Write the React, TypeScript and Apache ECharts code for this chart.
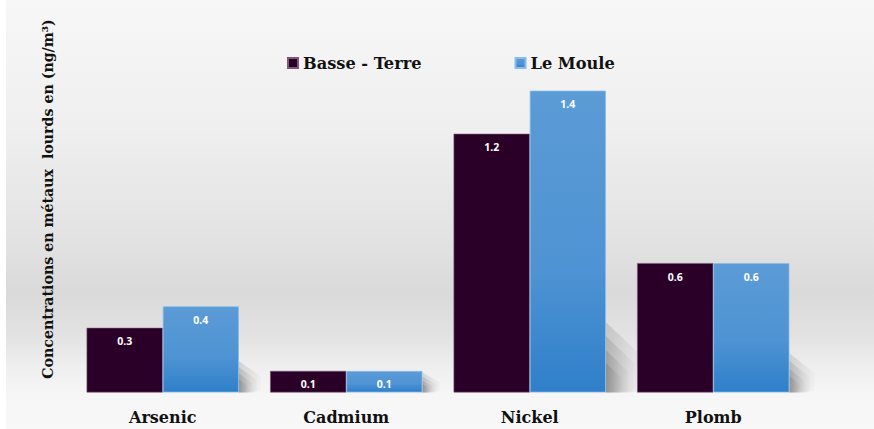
import React, { useEffect, useRef } from "react";
import * as echarts from "echarts";

const categories = ["Arsenic", "Cadmium", "Nickel", "Plomb"];
const seriesNames = ["Basse - Terre", "Le Moule"];
const basseTerre = [0.3, 0.1, 1.2, 0.6];
const leMoule = [0.4, 0.1, 1.4, 0.6];
const yTitle = "Concentrations en métaux  lourds en (ng/m³)";

export default function App() {
  const ref = useRef<HTMLDivElement>(null);
  useEffect(() => {
    const chart = echarts.init(ref.current!, null, { renderer: "svg" });
    const serif = "DejaVu Serif";
    const shadowData = categories.map((_, i) => [i, Math.max(basseTerre[i], leMoule[i])]);
    chart.setOption({
      animation: false,
      grid: { left: 65, right: 69, top: 47.5, bottom: 36.5 },
      legend: {
        data: seriesNames,
        left: 276,
        top: 50,
        itemWidth: 10,
        itemHeight: 10,
        itemGap: 93,
        icon: "rect",
        textStyle: { fontFamily: serif, fontWeight: "bold", fontSize: 16.2, color: "#111" },
      },
      graphic: [
        {
          type: "text",
          x: 42,
          y: 199,
          rotation: Math.PI / 2,
          style: {
            text: yTitle,
            fontFamily: serif,
            fontWeight: "bold",
            fontSize: 14.2,
            fill: "#111",
            textAlign: "center",
            textVerticalAlign: "middle",
          },
        },
      ],
      xAxis: {
        type: "category",
        data: categories,
        axisLine: { show: false },
        axisTick: { show: false },
        axisLabel: {
          margin: 17,
          fontFamily: serif,
          fontWeight: "bold",
          fontSize: 16,
          color: "#111",
        },
      },
      yAxis: { type: "value", min: 0, max: 1.6, show: false, splitLine: { show: false } },
      series: [
        {
          type: "custom",
          silent: true,
          z: 1,
          data: shadowData,
          encode: { x: 0, y: 1 },
          renderItem: (params: any, api: any) => {
            const idx = api.value(0);
            const v = api.value(1);
            const p0 = api.coord([idx, 0]);
            const p1 = api.coord([idx, v]);
            const bw = api.size([1, 0])[0];
            const xr = p0[0] + bw * 0.415;
            const h = p0[1] - p1[1];
            const H = 16 + 0.18 * h;
            const W = 16 + 0.07 * h;
            const layers = [1.0, 0.8, 0.6, 0.42];
            return {
              type: "group",
              children: layers.map((s) => ({
                type: "polygon",
                shape: {
                  points: [
                    [xr, p0[1]],
                    [xr, p0[1] - H * s],
                    [xr + W * s, p0[1] - H * s * 0.5],
                    [xr + W * s, p0[1] - 3],
                    [xr + W * s * 0.7, p0[1]],
                  ],
                },
                style: {
                  fill: new echarts.graphic.LinearGradient(0, 0, 1, 0, [
                    { offset: 0, color: "rgba(0,0,0,0.12)" },
                    { offset: 1, color: "rgba(0,0,0,0.015)" },
                  ]),
                },
              })),
            };
          },
        },
        {
          name: seriesNames[0],
          type: "bar",
          z: 2,
          data: basseTerre,
          barGap: "0%",
          barCategoryGap: "17%",
          itemStyle: { color: "#2a0028", borderColor: "#7a5a78", borderWidth: 0.6 },
          label: {
            show: true,
            position: "insideTop",
            distance: 8,
            color: "#fff",
            fontFamily: "Noto Sans",
            fontWeight: "bold",
            fontSize: 10.5,
          },
        },
        {
          name: seriesNames[1],
          type: "bar",
          z: 2,
          data: leMoule,
          barGap: "0%",
          barCategoryGap: "17%",
          itemStyle: {
            color: new echarts.graphic.LinearGradient(0, 0, 0, 1, [
              { offset: 0, color: "#5b9bd6" },
              { offset: 0.6, color: "#4e93d3" },
              { offset: 1, color: "#2f7fca" },
            ]),
            borderColor: "#8cbbe6",
            borderWidth: 0.8,
          },
          label: {
            show: true,
            position: "insideTop",
            distance: 8,
            color: "#fff",
            fontFamily: "Noto Sans",
            fontWeight: "bold",
            fontSize: 10.5,
          },
        },
      ],
    });
    return () => chart.dispose();
  }, []);
  return (
    <div style={{ position: "absolute", left: 0, top: 0, width: 874, height: 429, background: "#fff" }}>
      <div
        ref={ref}
        style={{
          position: "absolute",
          left: 6,
          top: 0,
          width: 868,
          height: 429,
          background:
            "linear-gradient(to bottom, #f7f7f7 0%, #efefef 30%, #e3e3e3 55%, #dadada 68%, #e2e2e2 78%, #efefef 86%, #f6f6f6 92%, #f8f8f8 100%)",
        }}
      />
    </div>
  );
}
